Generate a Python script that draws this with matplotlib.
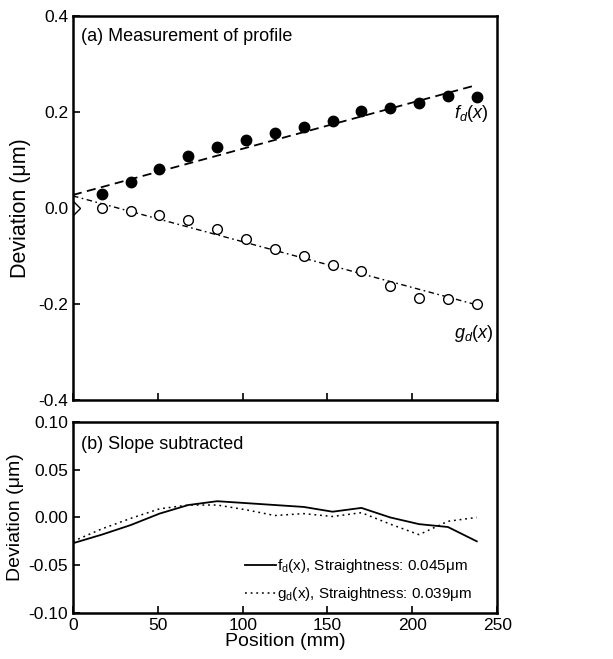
import matplotlib
matplotlib.use("Agg")
import matplotlib.pyplot as plt

plt.rcParams['font.family'] = ['Liberation Sans', 'DejaVu Sans']
plt.rcParams['mathtext.fontset'] = 'custom'
plt.rcParams['mathtext.rm'] = 'Liberation Sans'
plt.rcParams['mathtext.it'] = 'Liberation Sans:italic'

# ---- data ----
pos = [17, 34, 51, 68, 85, 102, 119, 136, 153, 170, 187, 204, 221, 238]
f_meas = [0.029, 0.055, 0.082, 0.108, 0.127, 0.141, 0.155, 0.168, 0.181,
          0.201, 0.208, 0.218, 0.232, 0.230]
g_meas = [0.000, -0.006, -0.014, -0.026, -0.043, -0.064, -0.086, -0.100,
          -0.119, -0.131, -0.162, -0.187, -0.189, -0.201]
start_x = [0]
start_y = [0.0]
fit_x = [0, 236]
f_fit = [0.027, 0.254]
g_fit = [0.025, -0.200]

res_x = [0, 17, 34, 51, 68, 85, 102, 119, 136, 153, 170, 187, 204, 221, 238]
f_res = [-0.027, -0.018, -0.008, 0.004, 0.013, 0.017, 0.015, 0.013, 0.011,
         0.006, 0.010, 0.000, -0.007, -0.010, -0.025]
g_res = [-0.025, -0.012, -0.001, 0.009, 0.013, 0.013, 0.008, 0.002, 0.004,
         0.001, 0.005, -0.007, -0.018, -0.004, 0.000]

top_yticks = [-0.4, -0.2, 0.0, 0.2, 0.4]
bot_yticks = [-0.10, -0.05, 0.00, 0.05, 0.10]
xticks = [0, 50, 100, 150, 200, 250]

fig = plt.figure(figsize=(6.13, 6.59), dpi=100)
ax1 = fig.add_axes([0.119, 0.393, 0.692, 0.583])
ax2 = fig.add_axes([0.119, 0.0698, 0.692, 0.290])

for ax in (ax1, ax2):
    for s in ax.spines.values():
        s.set_linewidth(1.8)
    ax.tick_params(direction='in', length=5, width=1.2, labelsize=12.5)
    ax.set_xlim(0, 250)
    ax.set_xticks(xticks)

# top panel
ax1.plot(fit_x, f_fit, color='black', lw=1.3, dashes=(5, 3))
ax1.plot(fit_x, g_fit, color='black', lw=1.0, dashes=(4, 2.5, 1.2, 2.5))
ax1.plot(pos, f_meas, 'o', color='black', ms=7.5)
ax1.plot(pos, g_meas, 'o', mfc='white', mec='black', mew=1.0, ms=7)
ax1.plot(start_x, start_y, 'D', mfc='white', mec='black', mew=1.0, ms=7)
ax1.set_ylim(-0.4, 0.4)
ax1.set_yticks(top_yticks)
ax1.set_yticklabels(['%.1f' % v for v in top_yticks])
ax1.set_xticklabels([])
ax1.set_ylabel('Deviation (μm)', fontsize=15.5, labelpad=5)
ax1.text(0.02, 0.945, '(a) Measurement of profile', transform=ax1.transAxes,
         fontsize=13, va='center', ha='left')
ax1.text(235, 0.197, r'$f_d(x)$', fontsize=13, ha='center', va='center')
ax1.text(236, -0.262, r'$g_d(x)$', fontsize=13, ha='center', va='center')

# bottom panel
ax2.plot(res_x, f_res, color='black', lw=1.3,
         label=r'f$_\mathrm{d}$(x), Straightness: 0.045μm')
ax2.plot(res_x, g_res, color='black', lw=1.1, dashes=(1.2, 2.5),
         label=r'g$_\mathrm{d}$(x), Straightness: 0.039μm')
ax2.set_ylim(-0.10, 0.10)
ax2.set_yticks(bot_yticks)
ax2.set_yticklabels(['%.2f' % v for v in bot_yticks])
ax2.set_xticklabels([str(v) for v in xticks])
ax2.set_ylabel('Deviation (μm)', fontsize=14, labelpad=3)
ax2.set_xlabel('Position (mm)', fontsize=14, labelpad=0)
ax2.text(0.02, 0.88, '(b) Slope subtracted', transform=ax2.transAxes,
         fontsize=13, va='center', ha='left')
leg = ax2.legend(loc='lower right', bbox_to_anchor=(0.965, 0.0),
                 frameon=False, fontsize=11,
                 handlelength=2.0, handletextpad=0.1, borderaxespad=0.25,
                 labelspacing=0.65)

fig.savefig('out.png', dpi=100)
